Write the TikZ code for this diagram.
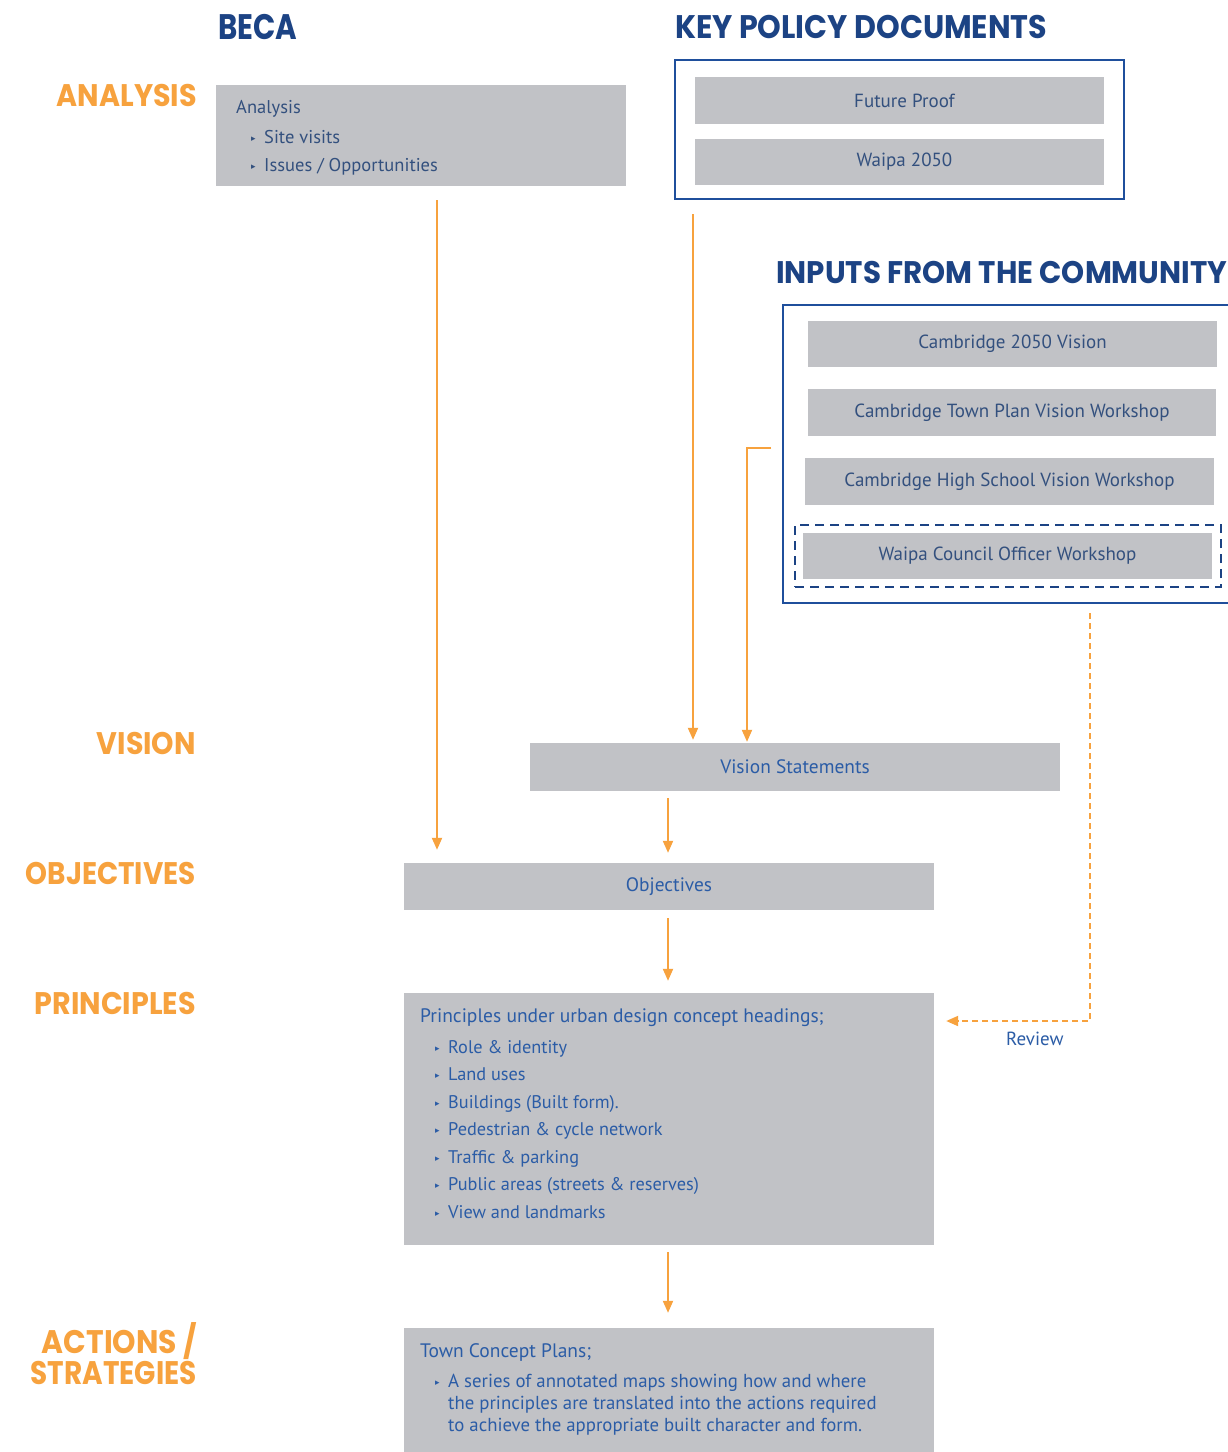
\documentclass[tikz,border=0pt]{standalone}
\usepackage{fontspec}
\usepackage{graphicx}
\setmainfont{PT Sans}
\newfontfamily\hdrfont{Poppins}
\newfontfamily\symfont{DejaVu Sans}
\usetikzlibrary{arrows.meta}

\definecolor{boxgray}{HTML}{C1C2C6}
\definecolor{navy}{HTML}{1C4384}
\definecolor{frameblue}{HTML}{1F4F9C}
\definecolor{txtblue}{HTML}{2B5CA6}
\definecolor{txtslate}{HTML}{33507E}
\definecolor{accent}{HTML}{F7A23E}

% heading text stretched to a given width and cap height
\newcommand{\hdrtext}[3]{\resizebox{#1}{#2}{\hdrfont\bfseries
  \raisebox{0pt}[\fontcharht\font`H][0pt]{#3}}}
\newcommand{\tri}{{\symfont\fontsize{9}{9}\selectfont ▸}}
\newcommand{\fs}[1]{\fontsize{#1}{22}\selectfont}

\begin{document}
\begin{tikzpicture}[x=1pt,y=-1pt,
  gbox/.style={fill=boxgray, draw=none, inner sep=0pt, text=txtslate,
    font=\fs{19}},
  frame/.style={draw=frameblue, line width=2pt, fill=none, inner sep=0pt},
  dframe/.style={draw=navy, line width=2pt, dash pattern=on 9pt off 6pt, inner sep=0pt},
  hd/.style={anchor=south west, inner sep=0pt, text=navy},
  lbl/.style={anchor=south east, inner sep=0pt, text=accent},
  line/.style={anchor=base west, inner sep=0pt, text=txtblue, font=\fs{18.5}},
  bul/.style={anchor=base west, inner sep=0pt, text=txtblue},
  arr/.style={draw=accent, line width=2pt, -{Triangle[length=12pt,width=10pt]}},
  darr/.style={arr, dash pattern=on 6pt off 4pt}
]
\useasboundingbox (0,0) rectangle (1228,1452);
\fill[white] (0,0) rectangle (1228,1452);

% column headings
\node[hd] (beca) at (218,40) {\hdrtext{79pt}{25pt}{BECA}};
\node[hd] (keyhd) at (675,39) {\hdrtext{372pt}{23pt}{KEY POLICY DOCUMENTS}};
\node[hd] (commhd) at (776,284) {\hdrtext{451pt}{22pt}{INPUTS FROM THE COMMUNITY}};

% stage labels
\node[lbl] (lanalysis) at (197,107) {\hdrtext{140pt}{22pt}{ANALYSIS}};
\node[lbl] (lvision) at (196,755) {\hdrtext{99pt}{22pt}{VISION}};
\node[lbl] (lobj) at (196,885) {\hdrtext{170pt}{22pt}{OBJECTIVES}};
\node[lbl] (lprin) at (196,1015) {\hdrtext{161pt}{22pt}{PRINCIPLES}};
\node[lbl] (lact) at (197,1354) {\hdrtext{155pt}{23pt}{ACTIONS /}};
\node[lbl] (lstrat) at (197,1385) {\hdrtext{166pt}{23pt}{STRATEGIES}};

% Beca analysis
\node[gbox, minimum width=410pt, minimum height=101pt] (anabox) at (421,135.5) {};
\node[line, text=txtslate] (ana0) at (236,113) {Analysis};
\node[bul, text=txtslate] (anab1) at (251,141) {\tri};
\node[line, text=txtslate] (ana1) at (264,143) {Site visits};
\node[bul, text=txtslate] (anab2) at (251,169) {\tri};
\node[line, text=txtslate] (ana2) at (264,171) {Issues / Opportunities};

% key policy documents
\node[frame, minimum width=449pt, minimum height=139pt] (keybox) at (899.5,129.5) {};
\node[gbox, minimum width=409pt, minimum height=47pt] (future) at (899.5,100.5) {\hspace{10pt}Future Proof};
\node[gbox, minimum width=409pt, minimum height=46pt] (waipa) at (899.5,162) {\hspace{10pt}Waipa 2050};

% community inputs
\node[frame, minimum width=452pt, minimum height=298pt] (comm) at (1009,454) {};
\node[gbox, minimum width=409pt, minimum height=46pt] (cam) at (1012.5,344) {Cambridge 2050 Vision};
\node[gbox, minimum width=408pt, minimum height=47pt] (ctp) at (1012,412.5) {Cambridge Town Plan Vision Workshop};
\node[gbox, minimum width=409pt, minimum height=47pt] (chs) at (1009.5,481.5) {Cambridge High School Vision Workshop};
\node[dframe, minimum width=426pt, minimum height=62pt] (wcdash) at (1008,556) {};
\node[gbox, minimum width=409pt, minimum height=46pt] (wco) at (1007.5,556) {Waipa Council Officer Workshop};

% main sequence
\node[gbox, text=txtblue, font=\fs{19.4}, minimum width=530pt, minimum height=48pt] (vision) at (795,767) {Vision Statements};
\node[gbox, text=txtblue, font=\fs{19.4}, minimum width=530pt, minimum height=47pt] (obj) at (669,886.5) {Objectives};
\node[gbox, minimum width=530pt, minimum height=252pt] (prin) at (669,1119) {};
\node[gbox, minimum width=530pt, minimum height=140pt] (town) at (669,1398) {};

% principles text
\node[line, font=\fs{19.5}] (p0) at (420,1022) {Principles under urban design concept headings;};
\foreach \t [count=\i] in {Role \& identity, Land uses, Buildings (Built form)., Pedestrian \& cycle network, Traffic \& parking, Public areas (streets \& reserves), View and landmarks} {
  \pgfmathsetmacro{\yy}{1053+27.5*(\i-1)}
  \node[bul] (pb\i) at (435,\yy-2) {\tri};
  \node[line, font=\fs{18.3}] (p\i) at (448,\yy) {\t};
}

% town concept text
\node[line, font=\fs{19.5}] (t0) at (420,1357) {Town Concept Plans;};
\node[bul] (tb1) at (435,1385) {\tri};
\node[line, font=\fs{18.8}] (t1) at (448,1387) {A series of annotated maps showing how and where};
\node[line, font=\fs{18.8}] (t2) at (448,1409) {the principles are translated into the actions required};
\node[line, font=\fs{18.8}] (t3) at (448,1431) {to achieve the appropriate built character and form.};

% review label
\node[line, font=\fs{19}] (review) at (1006,1045) {Review};

% connectors
\draw[arr, shorten <=14pt, shorten >=13pt] ([xshift=16pt]anabox.south) -- ([xshift=-232pt]obj.north);
\draw[arr, shorten <=14pt, shorten >=3pt] ([xshift=-206.5pt]keybox.south) -- ([xshift=-102pt]vision.north);
\draw[arr, shorten <=11pt, shorten >=1pt] ([yshift=6pt]comm.west) -| ([xshift=-48pt]vision.north);
\draw[arr, shorten <=7pt, shorten >=10pt] ([xshift=-127pt]vision.south) -- ([xshift=-1pt]obj.north);
\draw[arr, shorten <=8pt, shorten >=12pt] ([xshift=-1pt]obj.south) -- ([xshift=-1pt]prin.north);
\draw[arr, shorten <=7pt, shorten >=15pt] ([xshift=-1pt]prin.south) -- ([xshift=-1pt]town.north);
\draw[darr, shorten <=9pt, shorten >=12pt] ([xshift=81pt]comm.south) |- ([yshift=98pt]prin.east);
\end{tikzpicture}
\end{document}
